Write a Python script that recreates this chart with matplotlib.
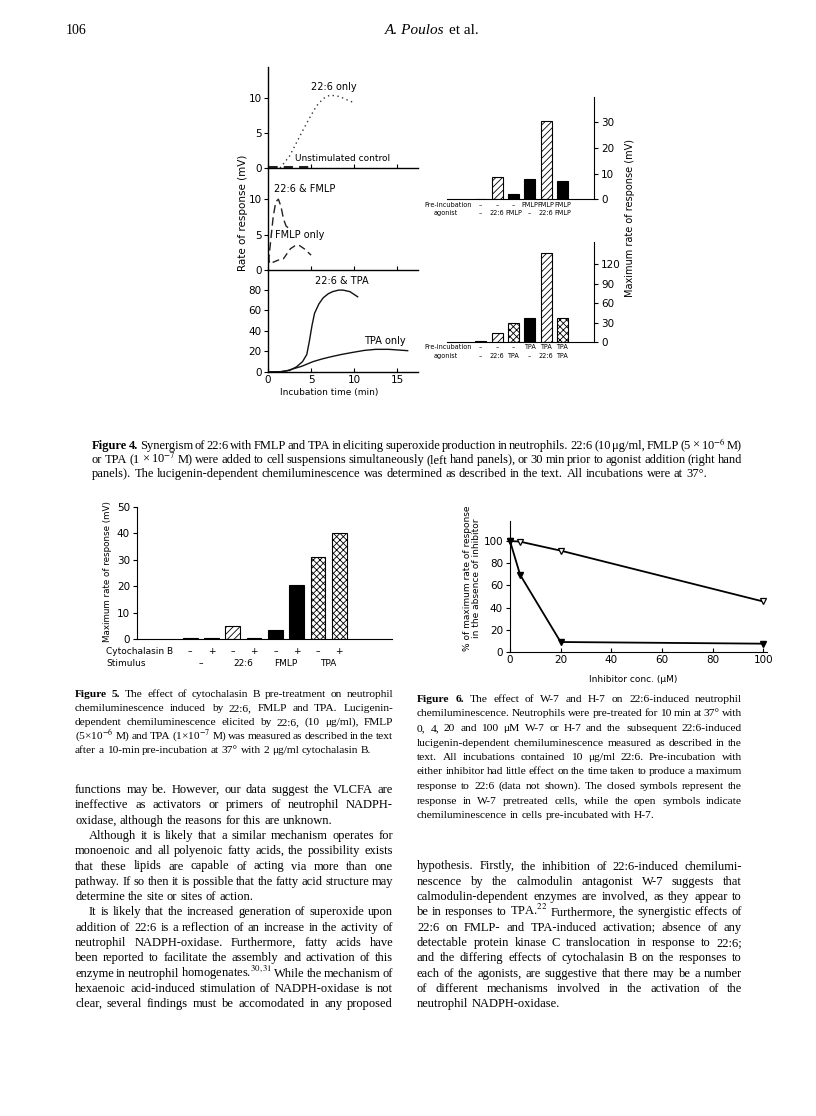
import matplotlib
matplotlib.use('Agg')
import matplotlib.pyplot as plt
import matplotlib.transforms as mtransforms

W, H = 816, 1116
SANS = 'DejaVu Sans'
SERIF = 'Liberation Serif'
plt.rcParams['mathtext.fontset'] = 'stix'
plt.rcParams['hatch.linewidth'] = 0.6
plt.rcParams['font.family'] = SANS

# ---- Figure 4, left: time courses (min, mV) ----
t_226_only = [1.4, 2.5, 3.3, 4.1, 4.9, 5.6, 6.4, 7.2, 8.3, 9.0, 9.8]
v_226_only = [0, 1.7, 3.6, 5.5, 7.3, 8.8, 9.9, 10.4, 10.2, 9.8, 9.4]
t_control = [0, 5.0]
v_control = [0.15, 0.15]
t_226_fmlp = [0.05, 0.3, 0.6, 0.9, 1.2, 1.5, 1.8, 2.1, 2.4]
v_226_fmlp = [1.0, 4.0, 7.5, 9.6, 10.0, 9.0, 7.2, 6.2, 5.9]
t_fmlp_only = [0, 0.2, 0.6, 1.2, 1.8, 2.2, 2.6, 3.1, 3.6, 4.2, 5.0]
v_fmlp_only = [2.0, 0.9, 1.1, 1.4, 1.6, 2.3, 3.0, 3.4, 3.5, 3.0, 2.1]
t_226_tpa = [0, 1.5, 2.5, 3.3, 4.0, 4.5, 4.8, 5.1, 5.4, 5.9, 6.4, 7.0, 7.5, 8.2, 8.7, 9.5, 10.4]
v_226_tpa = [0, 0.3, 1.5, 5, 10, 17, 30, 45, 57, 66, 72, 76, 78, 79.5, 79.5, 78, 73]
t_tpa_only = [0, 1.5, 2.2, 3.0, 3.9, 5.2, 6.2, 7.2, 8.5, 9.8, 11.2, 12.5, 14.0, 16.2]
v_tpa_only = [0, 0.3, 1.3, 3.3, 5.5, 10, 12.5, 14.6, 17, 19, 21, 22, 22, 20.7]

# ---- Figure 4, right: maximum rates (mV) ----
pre_fmlp = ['–', '–', '–', 'FMLP', 'FMLP', 'FMLP']
ago_fmlp = ['–', '22:6', 'FMLP', '–', '22:6', 'FMLP']
val_fmlp = [0, 8.6, 2.1, 7.8, 30.4, 7.0]
pre_tpa = ['–', '–', '–', 'TPA', 'TPA', 'TPA']
ago_tpa = ['–', '22:6', 'TPA', '–', '22:6', 'TPA']
val_tpa = [1, 14, 29, 37, 137, 37]

# ---- Figure 5: cytochalasin B ----
cyto = ['–', '+', '–', '+', '–', '+', '–', '+']
stimulus = ['–', '–', '22:6', '22:6', 'FMLP', 'FMLP', 'TPA', 'TPA']
val_cyto = [0.3, 0.2, 5.0, 0.2, 3.3, 20.5, 31, 40.2]

# ---- Figure 6: inhibitors ----
conc = [0, 4, 20, 100]
w7 = [100, 69.5, 9, 7.5]
h7 = [100, 99.4, 91.3, 45.5]

STYLE = {'–': ('black', ''), 'FMLP': ('black', ''),
         '22:6': ('white', '/////'), 'TPA': ('white', 'xxxxx')}

fig = plt.figure(figsize=(W / 100, H / 100), dpi=100)
renderer = fig.canvas.get_renderer()


def axes_px(x0, y0, x1, y1):
    return fig.add_axes([x0 / W, 1 - y1 / H, (x1 - x0) / W, (y1 - y0) / H])


def fit_size(lines, width, size, indent=0):
    # largest size (<= size) at which every line fits with a tight space
    best = size
    for k, ln in enumerate(lines):
        words = ln.split()
        tmp = [fig.text(0, 0, w, fontsize=size, family=SERIF) for w in words]
        wsum = sum(t.get_window_extent(renderer).width for t in tmp)
        for t in tmp:
            t.remove()
        need = (wsum + (len(words) - 1) * size * 0.12 * 100 / 72) * 1.01
        avail = width - (indent if k == 0 else 0)
        best = min(best, size * avail / need)
    return best


def text_line(line, x0, x1, yb, size, justify=True, bold=0, indent=0):
    words = line.split()
    objs = [fig.text(0, 1 - yb / H, w, fontsize=size, family=SERIF,
                     weight='bold' if i < bold else 'normal', va='baseline')
            for i, w in enumerate(words)]
    widths = [o.get_window_extent(renderer).width for o in objs]
    x = x0 + indent
    if justify and len(words) > 1:
        gap = (x1 - x - sum(widths)) / (len(words) - 1)
    else:
        gap = size * 0.25 * 100 / 72
    for o, w in zip(objs, widths):
        o.set_x(x / W)
        x += w + gap


def paragraph(lines, x0, x1, y0, step, size, bold=0, indent=0, last_free=True):
    for i, ln in enumerate(lines):
        just = not (last_free and i == len(lines) - 1)
        text_line(ln, x0, x1, y0 + i * step, size, justify=just,
                  bold=bold if i == 0 else 0, indent=indent if i == 0 else 0)


# ---- page header ----
fig.text(66 / W, 1 - 34 / H, '106', fontsize=10, family=SERIF, va='baseline')
t1 = fig.text(385 / W, 1 - 34 / H, 'A. Poulos', fontsize=11, family=SERIF,
              style='italic', va='baseline')
w1 = t1.get_window_extent(renderer).width
fig.text((385 + w1 + 4) / W, 1 - 34 / H, 'et al.', fontsize=11, family=SERIF, va='baseline')

# ---- Figure 4 left panels ----
panels = [(67, 168, 14.4, [0, 5, 10]), (168, 270, 14.4, [0, 5, 10]),
          (270, 372, 99, [0, 20, 40, 60, 80])]
left_axes = []
for k, (ytop, ybot, ymax, yt) in enumerate(panels):
    ax = axes_px(268, ytop, 418, ybot)
    ax.set_xlim(0, 17.4)
    ax.set_ylim(0, ymax)
    for s in ('top', 'right'):
        ax.spines[s].set_visible(False)
    ax.spines['left'].set_linewidth(1.0)
    ax.spines['bottom'].set_linewidth(1.0)
    ax.set_yticks(yt)
    ax.set_xticks([0, 5, 10, 15])
    ax.tick_params(axis='y', direction='out', length=3, labelsize=7.5, pad=1.5)
    ax.tick_params(axis='x', direction='in', length=3, labelsize=7.5, pad=2,
                   labelbottom=(k == 2))
    ax.patch.set_alpha(0)
    left_axes.append(ax)

a1, a2, a3 = left_axes
a1.plot(t_226_only, v_226_only, color='#333', lw=1.0, ls=(0, (1, 2.5)))
a1.plot(t_control, v_control, color='#222', lw=2.2, ls=(0, (3, 2)))
a1.text(7.6, 11.6, '22:6 only', fontsize=7, ha='center', va='center')
a1.text(8.6, 1.3, 'Unstimulated control', fontsize=6.5, ha='center', va='center')
a2.plot(t_226_fmlp, v_226_fmlp, color='#222', lw=1.0, ls=(0, (6, 3)))
a2.plot(t_fmlp_only, v_fmlp_only, color='#222', lw=1.0, ls=(0, (5, 3)))
a2.text(4.2, 11.5, '22:6 & FMLP', fontsize=7, ha='center', va='center')
a2.text(3.7, 4.9, 'FMLP only', fontsize=7, ha='center', va='center')
a3.plot(t_226_tpa, v_226_tpa, color='#111', lw=1.0)
a3.plot(t_tpa_only, v_tpa_only, color='#111', lw=1.0)
a3.text(8.6, 88, '22:6 & TPA', fontsize=7, ha='center', va='center')
a3.text(13.6, 30, 'TPA only', fontsize=7, ha='center', va='center')
fig.text(243 / W, 1 - 213 / H, 'Rate of response (mV)', rotation=90,
         fontsize=7.5, ha='center', va='center')
fig.text(329 / W, 1 - 393 / H, 'Incubation time (min)', fontsize=6.5,
         ha='center', va='center')


# ---- Figure 4 right panels ----
def bar_panel(ytop, ybot, ymax, yt, pre, ago, vals, row_y):
    ax = axes_px(447, ytop, 594, ybot)
    idx = list(range(len(vals)))
    for i in idx:
        fc, hatch = STYLE[ago[i]]
        ax.bar(i, vals[i], width=0.69, color=fc, edgecolor='black',
               hatch=hatch, lw=0.8)
    ax.set_xlim(-2.07, 6.93)
    ax.set_ylim(0, ymax)
    for s in ('top', 'left'):
        ax.spines[s].set_visible(False)
    ax.set_xticks([])
    ax.set_yticks(yt)
    ax.yaxis.tick_right()
    ax.tick_params(axis='y', direction='out', length=3, labelsize=7.5, pad=2)
    tr = mtransforms.blended_transform_factory(ax.transData, fig.transFigure)
    for i in idx:
        ax.text(i, 1 - row_y[0] / H, pre[i], transform=tr, fontsize=4.7,
                ha='center', va='center')
        ax.text(i, 1 - row_y[1] / H, ago[i], transform=tr, fontsize=4.7,
                ha='center', va='center')
    fig.text(472 / W, 1 - row_y[0] / H, 'Pre-incubation', fontsize=4.7,
             ha='right', va='center')
    fig.text(458 / W, 1 - row_y[1] / H, 'agonist', fontsize=4.7,
             ha='right', va='center')
    return ax


bar_panel(97, 199, 40, [0, 10, 20, 30], pre_fmlp, ago_fmlp, val_fmlp, (205, 213))
bar_panel(242, 342, 154, [0, 30, 60, 90, 120], pre_tpa, ago_tpa, val_tpa, (347, 356))
fig.text(630 / W, 1 - 218 / H, 'Maximum rate of response (mV)', rotation=90,
         fontsize=7, ha='center', va='center')

# ---- Figure 5 ----
ax5 = axes_px(137, 507, 392, 639)
for i, v in enumerate(val_cyto):
    fc, hatch = STYLE[stimulus[i]]
    ax5.bar(i, v, width=0.69, color=fc, edgecolor='black', hatch=hatch, lw=0.8)
ax5.set_xlim(-2.5, 9.48)
ax5.set_ylim(0, 50)
for s in ('top', 'right'):
    ax5.spines[s].set_visible(False)
ax5.set_xticks([])
ax5.set_yticks(range(0, 51, 10))
ax5.tick_params(axis='y', direction='out', length=3, labelsize=7.5, pad=2)
tr5 = mtransforms.blended_transform_factory(ax5.transData, fig.transFigure)
for i, c in enumerate(cyto):
    ax5.text(i, 1 - 652 / H, c, transform=tr5, fontsize=6.5, ha='center', va='center')
for j in range(0, len(stimulus), 2):
    ax5.text(j + 0.5, 1 - 664 / H, stimulus[j], transform=tr5, fontsize=6.5,
             ha='center', va='center')
fig.text(106 / W, 1 - 652 / H, 'Cytochalasin B', fontsize=6.5, va='center')
fig.text(106 / W, 1 - 664 / H, 'Stimulus', fontsize=6.5, va='center')
fig.text(108 / W, 1 - 571 / H, 'Maximum rate of response (mV)', rotation=90,
         fontsize=6.3, ha='center', va='center')

# ---- Figure 6 ----
ax6 = axes_px(510, 521, 767, 652)
ax6.plot(conc, h7, color='black', lw=1.3, marker='v', ms=5, mfc='white',
         mec='black', mew=0.9, clip_on=False)
ax6.plot(conc, w7, color='black', lw=1.3, marker='v', ms=5, mfc='black',
         mec='black', clip_on=False)
ax6.set_xlim(0, 101.5)
ax6.set_ylim(0, 118)
for s in ('top', 'right'):
    ax6.spines[s].set_visible(False)
ax6.set_xticks(range(0, 101, 20))
ax6.set_yticks(range(0, 101, 20))
ax6.tick_params(axis='y', direction='out', length=3, labelsize=7.5, pad=2)
ax6.tick_params(axis='x', direction='in', length=3, labelsize=7.5, pad=2)
fig.text(633 / W, 1 - 680 / H, 'Inhibitor conc. (μM)', fontsize=6.5,
         ha='center', va='center')
fig.text(472 / W, 1 - 578 / H,
         '% of maximum rate of response\nin the absence of inhibitor',
         rotation=90, fontsize=6.5, ha='center', va='center', linespacing=1.1)

# ---- captions ----
cap4 = [
    'Figure 4. Synergism of 22:6 with FMLP and TPA in eliciting superoxide production in neutrophils. 22:6 (10 μg/ml, FMLP (5 × 10$^{-6}$ M)',
    'or TPA (1 × 10$^{-7}$ M) were added to cell suspensions simultaneously (left hand panels), or 30 min prior to agonist addition (right hand',
    'panels). The lucigenin-dependent chemiluminescence was determined as described in the text. All incubations were at 37°.',
]
paragraph(cap4, 92, 742, 449, 14, fit_size(cap4, 650, 9.3), bold=2)

cap5 = [
    'Figure 5. The effect of cytochalasin B pre-treatment on neutrophil',
    'chemiluminescence induced by 22:6, FMLP and TPA. Lucigenin-',
    'dependent chemiluminescence elicited by 22:6, (10 μg/ml), FMLP',
    '(5×10$^{-6}$ M) and TPA (1×10$^{-7}$ M) was measured as described in the text',
    'after a 10-min pre-incubation at 37° with 2 μg/ml cytochalasin B.',
]
paragraph(cap5, 75, 393, 697, 14, fit_size(cap5, 318, 8.8), bold=2)

cap6 = [
    'Figure 6. The effect of W-7 and H-7 on 22:6-induced neutrophil',
    'chemiluminescence. Neutrophils were pre-treated for 10 min at 37° with',
    '0, 4, 20 and 100 μM W-7 or H-7 and the subsequent 22:6-induced',
    'lucigenin-dependent chemiluminescence measured as described in the',
    'text. All incubations contained 10 μg/ml 22:6. Pre-incubation with',
    'either inhibitor had little effect on the time taken to produce a maximum',
    'response to 22:6 (data not shown). The closed symbols represent the',
    'response in W-7 pretreated cells, while the open symbols indicate',
    'chemiluminescence in cells pre-incubated with H-7.',
]
paragraph(cap6, 417, 742, 702, 14.5, fit_size(cap6, 325, 8.8), bold=2)

# ---- body text ----
body_left = [
    ['functions may be. However, our data suggest the VLCFA are',
     'ineffective as activators or primers of neutrophil NADPH-',
     'oxidase, although the reasons for this are unknown.'],
    ['Although it is likely that a similar mechanism operates for',
     'monoenoic and all polyenoic fatty acids, the possibility exists',
     'that these lipids are capable of acting via more than one',
     'pathway. If so then it is possible that the fatty acid structure may',
     'determine the site or sites of action.'],
    ['It is likely that the increased generation of superoxide upon',
     'addition of 22:6 is a reflection of an increase in the activity of',
     'neutrophil NADPH-oxidase. Furthermore, fatty acids have',
     'been reported to facilitate the assembly and activation of this',
     'enzyme in neutrophil homogenates.$^{30,31}$ While the mechanism of',
     'hexaenoic acid-induced stimulation of NADPH-oxidase is not',
     'clear, several findings must be accomodated in any proposed'],
]
body_right = [
    'hypothesis. Firstly, the inhibition of 22:6-induced chemilumi-',
    'nescence by the calmodulin antagonist W-7 suggests that',
    'calmodulin-dependent enzymes are involved, as they appear to',
    'be in responses to TPA.$^{22}$ Furthermore, the synergistic effects of',
    '22:6 on FMLP- and TPA-induced activation; absence of any',
    'detectable protein kinase C translocation in response to 22:6;',
    'and the differing effects of cytochalasin B on the responses to',
    'each of the agonists, are suggestive that there may be a number',
    'of different mechanisms involved in the activation of the',
    'neutrophil NADPH-oxidase.',
]
all_body = [ln for para in body_left for ln in para] + body_right
body_size = fit_size(all_body, 318, 10)

y = 793
for p, para in enumerate(body_left):
    paragraph(para, 75, 393, y, 15.3, body_size, indent=0 if p == 0 else 14,
              last_free=(p < 2))
    y += 15.3 * len(para)
paragraph(body_right, 417, 742, 793 + 5 * 15.3, 15.3, body_size)

fig.savefig('out.png', dpi=100)
